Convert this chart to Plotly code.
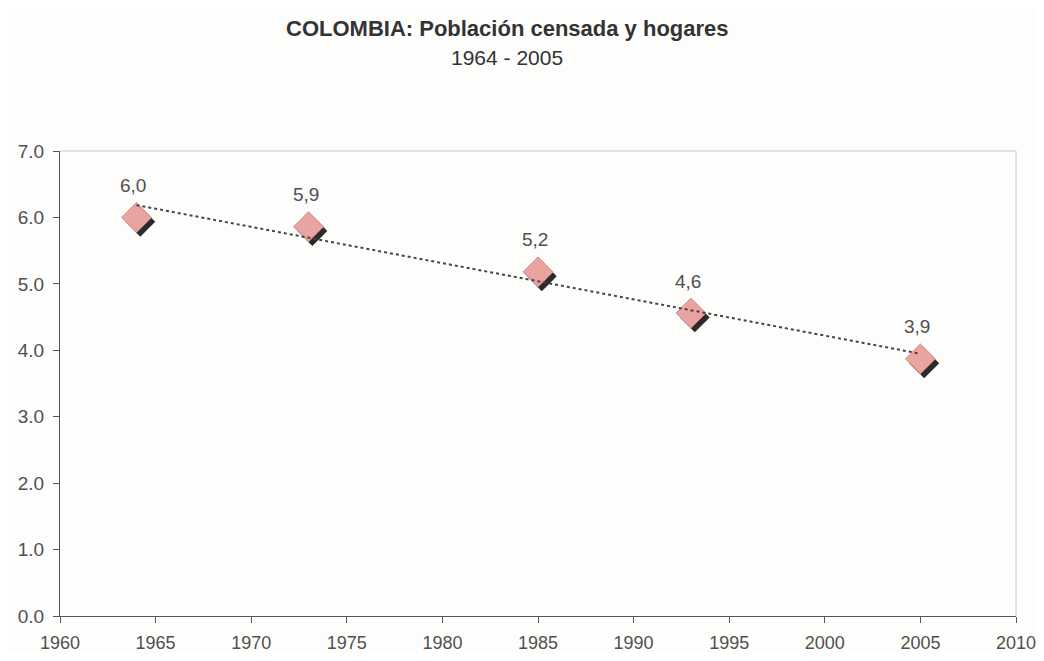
import numpy as np
import plotly.graph_objects as go

# Personas por hogar, censos de Colombia
years = [1964, 1973, 1985, 1993, 2005]
persons = [6.0, 5.86, 5.18, 4.56, 3.87]
labels = [f"{v:.1f}".replace(".", ",") for v in persons]

# tendencia lineal (como la linea de tendencia de Excel)
slope, intercept = np.polyfit(years, persons, 1)
trend_x = [years[0], years[-1]]
trend_y = [slope * x + intercept for x in trend_x]

font = "Liberation Sans, Arial, sans-serif"
tickfont = dict(family=font, size=19, color="#505050")

fig = go.Figure()

# sombra del marcador
fig.add_trace(go.Scatter(
    x=[x + 0.2 for x in years], y=[y - 0.065 for y in persons],
    mode="markers",
    marker=dict(symbol="diamond", size=23, color="#2b2b2b"),
    hoverinfo="skip", showlegend=False))

fig.add_trace(go.Scatter(
    x=years, y=persons, mode="markers",
    marker=dict(symbol="diamond", size=23, color="#e9a3a0",
                line=dict(color="#d88a88", width=1)),
    showlegend=False))

fig.add_trace(go.Scatter(
    x=trend_x, y=trend_y, mode="lines",
    line=dict(color="#444444", width=2, dash="dot"),
    hoverinfo="skip", showlegend=False))

for x, y, t in zip(years, persons, labels):
    fig.add_annotation(x=x, y=y, text=t, showarrow=False, yshift=32, xshift=-3,
                       font=dict(family=font, size=19, color="#505050"))

fig.add_annotation(text="<b>COLOMBIA: Población censada y hogares</b>",
                   x=0.4676, y=1, xref="paper", yref="paper", yshift=137,
                   showarrow=False, font=dict(family=font, size=22, color="#333333"))
fig.add_annotation(text="1964 - 2005", x=0.4676, y=1, xref="paper", yref="paper",
                   yshift=107, showarrow=False,
                   font=dict(family=font, size=21, color="#333333"))

fig.update_layout(
    width=1028, height=645,
    margin=dict(l=52, r=20, t=143, b=37),
    paper_bgcolor="#fdfdfb", plot_bgcolor="#fdfdfb",
    font=dict(family=font, color="#444444"),
    shapes=[
        dict(type="line", xref="paper", yref="paper", x0=0, x1=1, y0=1, y1=1,
             line=dict(color="#b9cfd6", width=1)),
        dict(type="line", xref="paper", yref="paper", x0=1, x1=1, y0=0, y1=1,
             line=dict(color="#c8c8c8", width=1)),
    ],
)

fig.update_xaxes(range=[1960, 2010], dtick=5, tick0=1960, showgrid=False,
                 zeroline=False, showline=True, linecolor="#555555", linewidth=1,
                 ticks="outside", ticklen=6, tickcolor="#555555",
                 tickfont=dict(family=font, size=18, color="#505050"),
                 automargin=False, ticklabelstandoff=4, ticklabeloverflow="allow")
fig.update_yaxes(range=[0, 7], dtick=1, tickformat=".1f", showgrid=False,
                 zeroline=False, showline=True, linecolor="#555555", linewidth=1,
                 ticks="outside", ticklen=6, tickcolor="#555555", tickfont=tickfont,
                 automargin=False, ticklabelstandoff=5)

fig.write_html("out.html")
